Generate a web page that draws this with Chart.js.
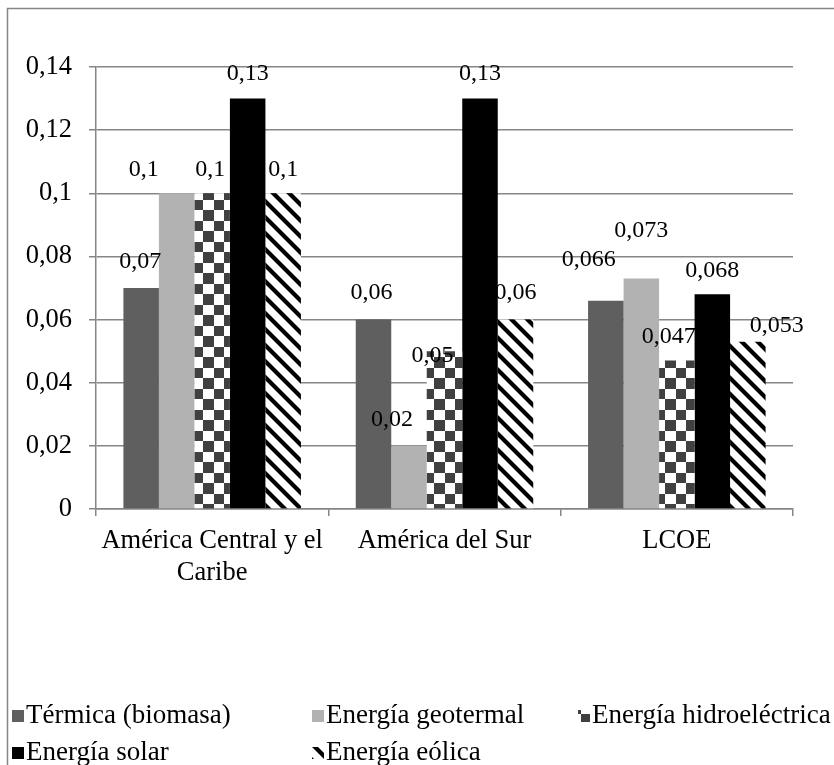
<!DOCTYPE html>
<html>
<head>
<meta charset="utf-8">
<script src="https://cdn.jsdelivr.net/npm/chart.js@4.4.0/dist/chart.umd.min.js"></script>
<style>
  body { margin: 0; background: #fff; }
  canvas { display: block; }
</style>
</head>
<body>
<canvas id="chart" width="834" height="765"></canvas>
<script>
// Datos del gráfico (USD/kWh)
var categories = [['América Central y el', 'Caribe'], 'América del Sur', 'LCOE'];
var seriesNames = ['Térmica (biomasa)', 'Energía geotermal', 'Energía hidroeléctrica', 'Energía solar', 'Energía eólica'];
var termica = [0.07, 0.06, 0.066];
var geotermal = [0.1, 0.02, 0.073];
var hidro = [0.1, 0.05, 0.047];
var solar = [0.13, 0.13, 0.068];
var eolica = [0.1, 0.06, 0.053];
var yTicks = [0, 0.02, 0.04, 0.06, 0.08, 0.1, 0.12, 0.14];

// desplazamiento manual de las etiquetas (dx, dy desde el extremo de la barra)
var labelShift = [
  [[-1, -26], [-2, -27], [-17, -41]],
  [[-33, -24], [-17, -26], [0, -48]],
  [[-2, -24], [-12, 5], [-8, -24]],
  [[0, -25], [0, -25], [0, -24]],
  [[0, -24], [0, -27], [29, -16]]
];

var FONT = '"Liberation Serif", "Times New Roman", serif';
var GRID = '#868686';

function coma(v) {
  return String(v).replace('.', ',');
}

// patrones de relleno
function checkerPattern(ctx) {
  var c = document.createElement('canvas');
  c.width = 42; c.height = 42;
  var p = c.getContext('2d');
  var edges = [0, 10, 21, 31, 42];
  p.fillStyle = '#fff';
  p.fillRect(0, 0, 42, 42);
  p.fillStyle = '#404040';
  for (var r = 0; r < 4; r++) {
    for (var k = 0; k < 4; k++) {
      if ((r + k) % 2 === 0) {
        p.fillRect(edges[k], edges[r], edges[k + 1] - edges[k], edges[r + 1] - edges[r]);
      }
    }
  }
  var pat = ctx.createPattern(c, 'repeat');
  pat.setTransform(new DOMMatrix([1, 0, 0, 1, 193, 305]));
  return pat;
}

function stripePattern(ctx) {
  var c = document.createElement('canvas');
  c.width = 16; c.height = 16;
  var p = c.getContext('2d');
  p.fillStyle = '#fff';
  p.fillRect(0, 0, 16, 16);
  p.strokeStyle = '#000';
  p.lineWidth = 4.2;
  [-16, 0, 16].forEach(function(o) {
    p.beginPath();
    p.moveTo(o - 2, -2);
    p.lineTo(o + 18, 18);
    p.stroke();
  });
  return ctx.createPattern(c, 'repeat');
}

var ctx = document.getElementById('chart').getContext('2d');

var fills = ['#5f5f5f', '#b2b2b2', checkerPattern(ctx), '#000000', stripePattern(ctx)];
var values = [termica, geotermal, hidro, solar, eolica];

var framePlugin = {
  id: 'frame',
  beforeDraw: function(chart) {
    var c = chart.ctx;
    c.save();
    c.fillStyle = '#fff';
    c.fillRect(0, 0, chart.width, chart.height);
    c.strokeStyle = GRID;
    c.lineWidth = 1.5;
    c.strokeRect(7.5, 8.5, 1000, 1000);
    c.restore();
  }
};

// etiquetas de valor sobre las barras
var labelPlugin = {
  id: 'barLabels',
  afterDatasetsDraw: function(chart) {
    var c = chart.ctx;
    c.save();
    c.font = '24px ' + FONT;
    c.fillStyle = '#000';
    c.textAlign = 'center';
    c.textBaseline = 'middle';
    chart.data.datasets.forEach(function(ds, i) {
      chart.getDatasetMeta(i).data.forEach(function(bar, j) {
        var s = labelShift[i][j];
        c.fillText(coma(ds.data[j]), bar.x + s[0], bar.y + s[1]);
      });
    });
    c.restore();
  }
};

var legendPlugin = {
  id: 'gridLegend',
  afterDraw: function(chart) {
    var c = chart.ctx;
    var cols = [12, 312, 578];
    var rows = [716, 753];
    c.save();
    c.font = '27px ' + FONT;
    c.textAlign = 'left';
    c.textBaseline = 'middle';
    chart.data.datasets.forEach(function(ds, i) {
      var x = cols[i % 3];
      var y = rows[Math.floor(i / 3)];
      c.fillStyle = ds.backgroundColor;
      c.fillRect(x, y - 6, 12, 12);
      c.fillStyle = '#000';
      c.fillText(ds.label, x + 14, y);
    });
    c.restore();
  }
};

Chart.defaults.font.family = FONT;
Chart.defaults.color = '#000';

new Chart(ctx, {
  type: 'bar',
  data: {
    labels: categories,
    datasets: seriesNames.map(function(name, i) {
      return {
        label: name,
        data: values[i],
        backgroundColor: fills[i],
        borderWidth: 0,
        categoryPercentage: 0.764,
        barPercentage: 1
      };
    })
  },
  options: {
    responsive: false,
    animation: false,
    layout: { padding: { top: 67, left: 8, right: 41, bottom: 0 } },
    plugins: {
      legend: { display: false },
      tooltip: { enabled: false }
    },
    scales: {
      x: {
        afterFit: function(scale) { scale.height = 256; },
        grid: { drawOnChartArea: false, drawTicks: true, tickLength: 7, color: GRID, lineWidth: 1.5, offset: true },
        border: { color: GRID, width: 1.5 },
        ticks: { font: { size: 26.5, lineHeight: 1.2 }, padding: 9, maxRotation: 0, autoSkip: false }
      },
      y: {
        min: 0,
        max: 0.14,
        afterFit: function(scale) { scale.width = 88; },
        afterBuildTicks: function(scale) {
          scale.ticks = yTicks.map(function(v) { return { value: v }; });
        },
        grid: { color: GRID, lineWidth: 1.5, tickLength: 7, drawTicks: true },
        border: { color: GRID, width: 1.5 },
        ticks: {
          font: { size: 26.5 },
          padding: 17,
          callback: function(v) { return coma(v); }
        }
      }
    }
  },
  plugins: [framePlugin, labelPlugin, legendPlugin]
});
</script>
</body>
</html>
